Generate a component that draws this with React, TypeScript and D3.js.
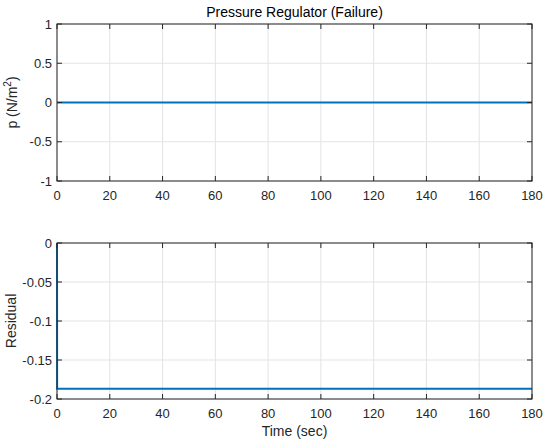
import * as d3 from "d3";
import {useRef, useEffect} from "react";

// data
const pressureTime = [0, 180];
const pressureValue = [0, 0];
const residualTime = [0, 0.05, 180];
const residualValue = [0, -0.187, -0.187];

const xTicks = [0, 20, 40, 60, 80, 100, 120, 140, 160, 180];
const topYTicks = [-1, -0.5, 0, 0.5, 1];
const bottomYTicks = [-0.2, -0.15, -0.1, -0.05, 0];

const W = 544;
const H = 441;
const left = 57;
const right = 532;

const App = () => {
    const ref = useRef<SVGSVGElement>(null);

    useEffect(() => {
        const svg = d3.select(ref.current);
        svg.selectAll("*").remove();
        svg.append("rect").attr("width", W).attr("height", H).attr("fill", "#fff");

        const x = d3.scaleLinear().domain([0, 180]).range([left, right]);

        const drawPanel = (top: number, bottom: number, domain: [number, number], yTicks: number[],
                           tx: number[], ty: number[]) => {
            const y = d3.scaleLinear().domain(domain).range([bottom, top]);
            const g = svg.append("g");

            // grid
            g.selectAll(".gx").data(xTicks).enter().append("line")
                .attr("x1", d => x(d)).attr("x2", d => x(d))
                .attr("y1", top).attr("y2", bottom)
                .attr("stroke", "#e3e3e3").attr("stroke-width", 1);
            g.selectAll(".gy").data(yTicks).enter().append("line")
                .attr("x1", left).attr("x2", right)
                .attr("y1", d => y(d)).attr("y2", d => y(d))
                .attr("stroke", "#e3e3e3").attr("stroke-width", 1);

            // line
            const line = d3.line<number>().x((d, i) => x(tx[i])).y(d => y(d));
            g.append("path").datum(ty).attr("d", line)
                .attr("fill", "none").attr("stroke", "#0072BD").attr("stroke-width", 2);

            // box
            g.append("rect").attr("x", left).attr("y", top)
                .attr("width", right - left).attr("height", bottom - top)
                .attr("fill", "none").attr("stroke", "#262626").attr("stroke-width", 1);

            // ticks inside
            const tl = 5;
            xTicks.forEach(t => {
                g.append("line").attr("x1", x(t)).attr("x2", x(t)).attr("y1", bottom).attr("y2", bottom - tl)
                    .attr("stroke", "#262626");
                g.append("line").attr("x1", x(t)).attr("x2", x(t)).attr("y1", top).attr("y2", top + tl)
                    .attr("stroke", "#262626");
                g.append("text").attr("x", x(t)).attr("y", bottom + 19)
                    .attr("text-anchor", "middle").attr("font-size", 13).attr("fill", "#262626")
                    .text(t);
            });
            yTicks.forEach(t => {
                g.append("line").attr("x1", left).attr("x2", left + tl).attr("y1", y(t)).attr("y2", y(t))
                    .attr("stroke", "#262626");
                g.append("line").attr("x1", right).attr("x2", right - tl).attr("y1", y(t)).attr("y2", y(t))
                    .attr("stroke", "#262626");
                g.append("text").attr("x", left - 5).attr("y", y(t) + 4.5)
                    .attr("text-anchor", "end").attr("font-size", 13).attr("fill", "#262626")
                    .text(String(t));
            });
        };

        drawPanel(24, 181, [-1, 1], topYTicks, pressureTime, pressureValue);
        drawPanel(243, 399, [-0.2, 0], bottomYTicks, residualTime, residualValue);

        svg.append("text").attr("x", (left + right) / 2).attr("y", 17)
            .attr("text-anchor", "middle").attr("font-size", 14).attr("fill", "#000")
            .text("Pressure Regulator (Failure)");

        const yl = svg.append("text").attr("transform", `translate(17, ${(24 + 181) / 2}) rotate(-90)`)
            .attr("text-anchor", "middle").attr("font-size", 14).attr("fill", "#262626");
        yl.append("tspan").text("p (N/m");
        yl.append("tspan").attr("dy", -6).attr("font-size", 10).text("2");
        yl.append("tspan").attr("dy", 6).text(")");

        svg.append("text").attr("transform", `translate(16, ${(243 + 399) / 2}) rotate(-90)`)
            .attr("text-anchor", "middle").attr("font-size", 14).attr("fill", "#262626")
            .text("Residual");

        svg.append("text").attr("x", (left + right) / 2).attr("y", 436)
            .attr("text-anchor", "middle").attr("font-size", 14).attr("fill", "#262626")
            .text("Time (sec)");
    }, []);

    return (
        <svg ref={ref} width={W} height={H}
             style={{position: "absolute", left: 0, top: 0, fontFamily: "'Liberation Sans', Arial, sans-serif"}}/>
    );
};

export default App;
